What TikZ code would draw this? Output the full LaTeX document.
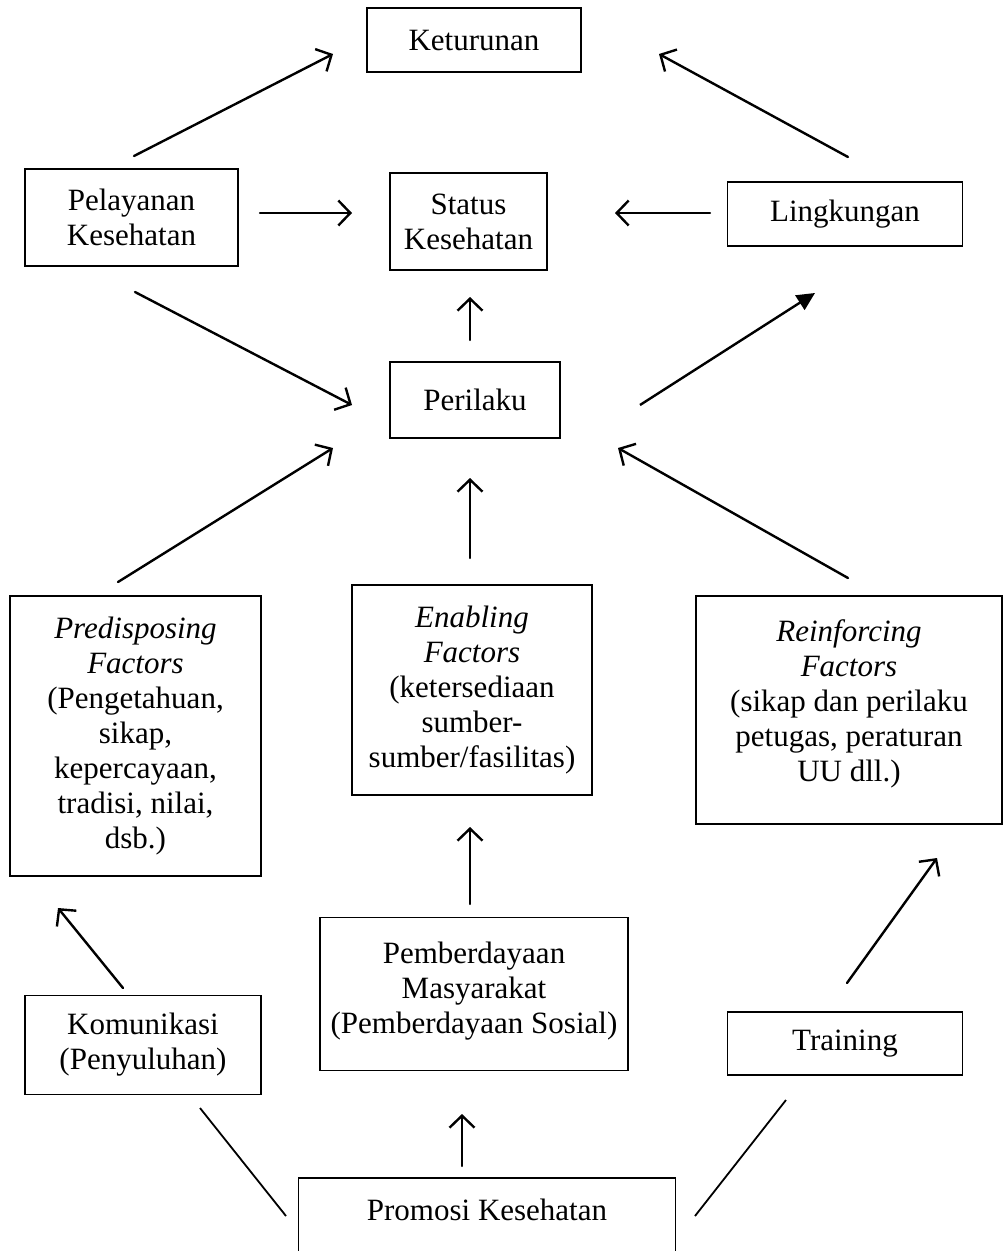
\documentclass[tikz,border=0pt]{standalone}
\usepackage{fontspec}
\setmainfont{Liberation Serif}
\usetikzlibrary{arrows.meta}
\begin{document}
\begin{tikzpicture}[x=1pt,y=-1pt,
  box/.style={draw, line width=1.3pt, align=center, inner sep=0pt,
    font=\fontsize{31}{35}\selectfont},
  arr/.style={line width=2.4pt, line cap=round,
    -{Straight Barb[length=12pt,width=25pt,line width=2.4pt]}},
  farr/.style={line width=2.4pt, -{Triangle[length=18pt,width=17pt]}},
  plain/.style={line width=1.8pt}]
\useasboundingbox (0,0) rectangle (1003,1251);
% boxes
\node[box, minimum width=214, minimum height=64] (ket) at (474,40) {Keturunan};
\node[box, minimum width=213, minimum height=97] (pel) at (131.5,217.5) {Pelayanan\\Kesehatan};
\node[box, minimum width=157, minimum height=97] (stat) at (468.5,221.5) {Status\\Kesehatan};
\node[box, minimum width=235, minimum height=64] (ling) at (845,214) {Lingkungan};
\node[box, minimum width=170, minimum height=76] (per) at (475,400) {Perilaku};
\node[box, minimum width=251, minimum height=280] (pre) at (135.5,736) {\textit{Predisposing}\\\textit{Factors}\\(Pengetahuan,\\sikap,\\kepercayaan,\\tradisi, nilai,\\dsb.)};
\node[box, minimum width=240, minimum height=210] (ena) at (472,690) {\textit{Enabling}\\\textit{Factors}\\(ketersediaan\\sumber-\\sumber/fasilitas)};
\node[box, minimum width=306, minimum height=228] (rei) at (849,710) {\textit{Reinforcing}\\\textit{Factors}\\(sikap dan perilaku\\petugas, peraturan\\UU dll.)\\[-16pt]\mbox{}};
\node[box, minimum width=308, minimum height=153] (pem) at (474,994) {Pemberdayaan\\Masyarakat\\(Pemberdayaan Sosial)\\[-23pt]\mbox{}};
\node[box, minimum width=236, minimum height=99] (kom) at (143,1045) {Komunikasi\\(Penyuluhan)};
\node[box, minimum width=235, minimum height=63] (tra) at (845,1043.5) {Training};
\node[box, minimum width=377, minimum height=99] (pro) at (487,1227.5) {Promosi Kesehatan\\\mbox{}};
% connector end points
\coordinate (a1) at (134,156);  \coordinate (b1) at (333,54);
\coordinate (a2) at (848,157);  \coordinate (b2) at (659,54);
\coordinate (a3) at (260,213);  \coordinate (b3) at (352,213);
\coordinate (a4) at (710,213);  \coordinate (b4) at (615,213);
\coordinate (a5) at (135,292);  \coordinate (b5) at (352,405);
\coordinate (a6) at (470,340);  \coordinate (b6) at (470,297);
\coordinate (a7) at (640,405);  \coordinate (b7) at (815,293);
\coordinate (a8) at (118,582);  \coordinate (b8) at (333,448);
\coordinate (a9) at (470,558);  \coordinate (b9) at (470,478);
\coordinate (a10) at (848,578); \coordinate (b10) at (618,448);
\coordinate (a11) at (123,988); \coordinate (b11) at (58,908);
\coordinate (a12) at (470,904); \coordinate (b12) at (470,827);
\coordinate (a13) at (847,983); \coordinate (b13) at (937,858);
\coordinate (a14) at (462,1166); \coordinate (b14) at (462,1114);
\coordinate (a15) at (200,1108); \coordinate (b15) at (286,1216);
\coordinate (a16) at (786,1100); \coordinate (b16) at (695,1216);
% connectors
\draw[arr] (a1) -- (b1);
\draw[arr] (a2) -- (b2);
\draw[arr] (a3) -- (b3);
\draw[arr] (a4) -- (b4);
\draw[arr] (a5) -- (b5);
\draw[arr] (a6) -- (b6);
\draw[farr] (a7) -- (b7);
\draw[arr] (a8) -- (b8);
\draw[arr] (a9) -- (b9);
\draw[arr] (a10) -- (b10);
\draw[arr] (a11) -- (b11);
\draw[arr] (a12) -- (b12);
\draw[arr] (a13) -- (b13);
\draw[arr] (a14) -- (b14);
\draw[plain] (a15) -- (b15);
\draw[plain] (a16) -- (b16);
\end{tikzpicture}
\end{document}
